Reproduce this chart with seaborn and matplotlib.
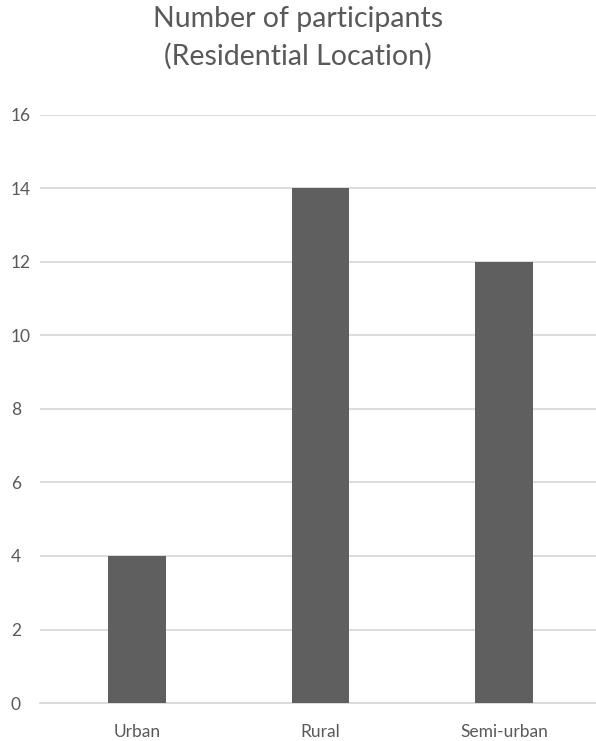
import matplotlib
matplotlib.use("Agg")
import matplotlib.pyplot as plt
import seaborn as sns
import pandas as pd

locations = ["Urban", "Rural", "Semi-urban"]
participants = [4, 14, 12]
y_ticks = [0, 2, 4, 6, 8, 10, 12, 14, 16]

df = pd.DataFrame({"location": locations, "participants": participants})

sns.set_theme(style="white")
plt.rcParams["font.family"] = ["Lato", "DejaVu Sans"]

fig = plt.figure(figsize=(5.96, 7.41), dpi=100)
# plot area: gridlines from x=40 to the right edge, y=0 at 703 px, y=16 at 115 px
ax = fig.add_axes([40 / 596, 1 - 703 / 741, 556 / 596, 588 / 741])

sns.barplot(data=df, x="location", y="participants", color="#5f5f5f",
            saturation=1, width=0.315, linewidth=0, ax=ax, zorder=3)

ax.set_xlim(-0.527, 2.5)
ax.set_ylim(0, 16)
ax.set_yticks(y_ticks)
ax.yaxis.grid(True, color="#d9d9d9", linewidth=1.3, zorder=0)
ax.set_axisbelow(True)
for side in ["left", "right", "top"]:
    ax.spines[side].set_visible(False)
ax.spines["bottom"].set_color("#d9d9d9")
ax.spines["bottom"].set_linewidth(1.3)
ax.tick_params(axis="both", length=0, labelsize=12.5, labelcolor="#595959")
ax.tick_params(axis="y", pad=21)
ax.tick_params(axis="x", pad=15)
ax.set_xlabel("")
ax.set_ylabel("")
for lbl in ax.get_yticklabels():
    lbl.set_horizontalalignment("left")

fig.text(0.5, 0.992, "Number of participants\n(Residential Location)",
         ha="center", va="top", fontsize=20.5, color="#595959", linespacing=1.5)

fig.savefig("out.png", dpi=100)
